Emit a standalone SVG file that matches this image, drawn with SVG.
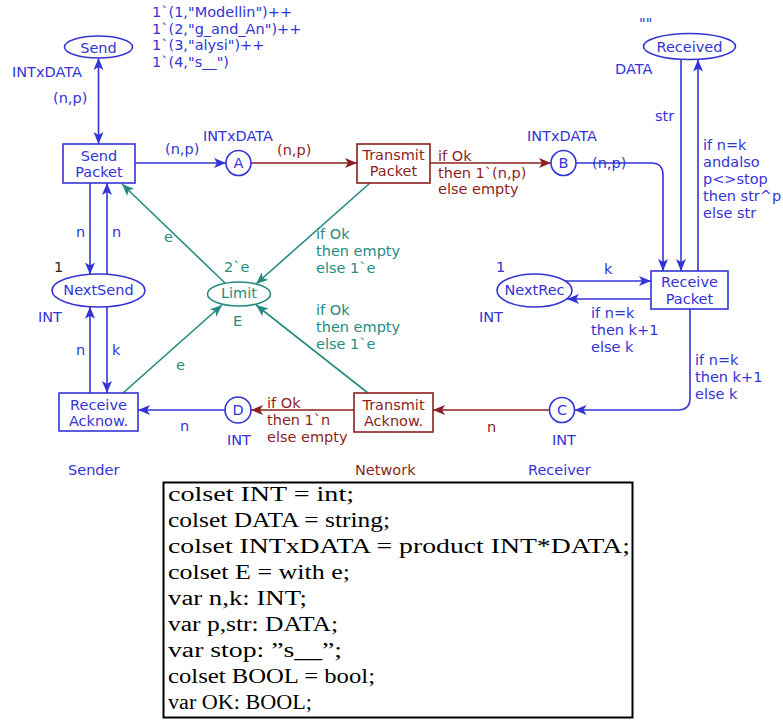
<svg xmlns="http://www.w3.org/2000/svg" width="783" height="720" viewBox="0 0 783 720">
<defs>
<style>
text{font-family:"DejaVu Sans","Verdana",sans-serif;font-size:14.5px}
.b{fill:#3434d6}.r{fill:#8b1f1f}.t{fill:#268c82}.k{fill:#222}
.mid{text-anchor:middle}
.nb{fill:#fff;stroke:#3434d6;stroke-width:1.6}
.nr{fill:#fff;stroke:#8b1f1f;stroke-width:1.6}
.nt{fill:#fff;stroke:#268c82;stroke-width:1.6}
.cb{fill:none;stroke:#3434d6;stroke-width:1.6;marker-end:url(#mb)}
.cr{fill:none;stroke:#8b1f1f;stroke-width:1.6;marker-end:url(#mr)}
.ct{fill:none;stroke:#268c82;stroke-width:1.6;marker-end:url(#mt)}
.decl{font-family:"Liberation Serif","Times New Roman",serif;font-size:20px;fill:#000}
</style>
<marker id="mb" viewBox="0 0 12 10" refX="12" refY="5" markerWidth="12" markerHeight="10" markerUnits="userSpaceOnUse" orient="auto-start-reverse"><path d="M0,0 L12,5 L0,10 L3,5 z" fill="#3434d6"/></marker>
<marker id="mr" viewBox="0 0 12 10" refX="12" refY="5" markerWidth="12" markerHeight="10" markerUnits="userSpaceOnUse" orient="auto-start-reverse"><path d="M0,0 L12,5 L0,10 L3,5 z" fill="#8b1f1f"/></marker>
<marker id="mt" viewBox="0 0 12 10" refX="12" refY="5" markerWidth="12" markerHeight="10" markerUnits="userSpaceOnUse" orient="auto-start-reverse"><path d="M0,0 L12,5 L0,10 L3,5 z" fill="#268c82"/></marker>
</defs>
<rect width="783" height="720" fill="#fff"/>

<g id="connectors">
<path class="cb" d="M98.5,58 V144" style="marker-start:url(#mb)"/>
<path class="cb" d="M135,163 H226"/>
<path class="cr" d="M251,163 H357"/>
<path class="cr" d="M430,163 H551"/>
<path class="cb" d="M576,163 H651 Q663,163 663,175 V271"/>
<path class="cb" d="M681,60 V271"/>
<path class="cb" d="M698,271 V59.5"/>
<path class="cb" d="M565,281 H651"/>
<path class="cb" d="M651,299 H567"/>
<path class="cb" d="M690,309 V398 Q690,410 678,410 H574.5"/>
<path class="cr" d="M549.5,410 H433"/>
<path class="cr" d="M354,410 H251"/>
<path class="cb" d="M225,410 H138"/>
<path class="cb" d="M90,183 V274.5"/>
<path class="cb" d="M107,274.5 V183"/>
<path class="cb" d="M90,393 V306.7"/>
<path class="cb" d="M107,306.7 V393"/>
<path class="ct" d="M225,283 L122,184"/>
<path class="ct" d="M370,183 L256,284"/>
<path class="ct" d="M123,393 L222,305"/>
<path class="ct" d="M368,393 L256,305"/>
</g>

<g id="labels">
<text class="b" x="12" y="77">INTxDATA</text>
<text class="b" x="53" y="103">(n,p)</text>
<text class="b" x="152" y="17">1`(1,"Modellin")++</text>
<text class="b" x="152" y="33.5">1`(2,"g_and_An")++</text>
<text class="b" x="152" y="50">1`(3,"alysi")++</text>
<text class="b" x="152" y="66.5">1`(4,"s__")</text>
<text class="b" x="165" y="154">(n,p)</text>
<text class="b" x="203" y="141">INTxDATA</text>
<text class="r" x="277" y="155">(n,p)</text>
<text class="r" x="438" y="161">if Ok</text>
<text class="r" x="438" y="177.5">then 1`(n,p)</text>
<text class="r" x="438" y="194">else empty</text>
<text class="b" x="527" y="141">INTxDATA</text>
<text class="b" x="592" y="168">(n,p)</text>
<text class="b" x="639" y="28">""</text>
<text class="b" x="615" y="74">DATA</text>
<text class="b" x="655" y="121">str</text>
<text class="b" x="703" y="150">if n=k</text>
<text class="b" x="703" y="167">andalso</text>
<text class="b" x="703" y="184">p&lt;&gt;stop</text>
<text class="b" x="703" y="201">then str^p</text>
<text class="b" x="703" y="218">else str</text>
<text class="b" x="496" y="272">1</text>
<text class="b" x="604" y="274">k</text>
<text class="b" x="479" y="322">INT</text>
<text class="b" x="591" y="318">if n=k</text>
<text class="b" x="591" y="335">then k+1</text>
<text class="b" x="591" y="352">else k</text>
<text class="b" x="695" y="365">if n=k</text>
<text class="b" x="695" y="382">then k+1</text>
<text class="b" x="695" y="399">else k</text>
<text class="r" x="487" y="432">n</text>
<text class="b" x="552" y="445">INT</text>
<text class="b" x="528" y="475">Receiver</text>
<text class="r" x="355" y="475">Network</text>
<text class="b" x="68" y="475">Sender</text>
<text class="r" x="267" y="408">if Ok</text>
<text class="r" x="267" y="425">then 1`n</text>
<text class="r" x="267" y="442">else empty</text>
<text class="b" x="180" y="431">n</text>
<text class="b" x="227" y="445">INT</text>
<text class="t" x="176" y="370">e</text>
<text class="t" x="233" y="326">E</text>
<text class="t" x="224" y="272">2`e</text>
<text class="t" x="164" y="242">e</text>
<text class="t" x="316" y="239">if Ok</text>
<text class="t" x="316" y="256">then empty</text>
<text class="t" x="316" y="273">else 1`e</text>
<text class="t" x="316" y="315">if Ok</text>
<text class="t" x="316" y="332">then empty</text>
<text class="t" x="316" y="349">else 1`e</text>
<text class="b" x="76" y="237">n</text>
<text class="b" x="112" y="237">n</text>
<text class="k" x="54" y="272">1</text>
<text class="b" x="38" y="322">INT</text>
<text class="b" x="76" y="355">n</text>
<text class="b" x="112" y="355">k</text>
</g>

<g id="Send"><ellipse class="nb" cx="98.5" cy="47" rx="34" ry="11"/><text class="b mid" x="98.5" y="53">Send</text></g>
<g id="SendPacket"><rect class="nb" x="63" y="144" width="72" height="39"/><text class="b mid" x="99" y="161">Send</text><text class="b mid" x="99" y="177">Packet</text></g>
<g id="A"><circle class="nb" cx="238.5" cy="163" r="12.5"/><text class="b mid" x="238.5" y="168">A</text></g>
<g id="TransmitPacket"><rect class="nr" x="357" y="144" width="73" height="39"/><text class="r mid" x="393.5" y="160">Transmit</text><text class="r mid" x="393.5" y="176">Packet</text></g>
<g id="B"><circle class="nb" cx="563.5" cy="163" r="12.5"/><text class="b mid" x="563.5" y="168">B</text></g>
<g id="Received"><ellipse class="nb" cx="689.5" cy="46.5" rx="46" ry="13"/><text class="b mid" x="689.5" y="52">Received</text></g>
<g id="ReceivePacket"><rect class="nb" x="651" y="271" width="77" height="38"/><text class="b mid" x="689.5" y="287">Receive</text><text class="b mid" x="689.5" y="304">Packet</text></g>
<g id="NextRec"><ellipse class="nb" cx="534.5" cy="290.5" rx="37.5" ry="16.5"/><text class="b mid" x="534.5" y="295">NextRec</text></g>
<g id="NextSend"><ellipse class="nb" cx="98.5" cy="290.5" rx="46.5" ry="16.5"/><text class="b mid" x="98.5" y="295">NextSend</text></g>
<g id="Limit"><ellipse class="nt" cx="239" cy="294" rx="31.5" ry="12"/><text class="t mid" x="239" y="298">Limit</text></g>
<g id="ReceiveAcknow"><rect class="nb" x="59" y="393" width="79" height="38"/><text class="b mid" x="98.5" y="410">Receive</text><text class="b mid" x="98.5" y="426">Acknow.</text></g>
<g id="D"><circle class="nb" cx="238" cy="410" r="13"/><text class="b mid" x="238" y="415">D</text></g>
<g id="TransmitAcknow"><rect class="nr" x="354" y="393" width="79" height="39"/><text class="r mid" x="393.5" y="410">Transmit</text><text class="r mid" x="393.5" y="426">Acknow.</text></g>
<g id="C"><circle class="nb" cx="562" cy="410" r="12.5"/><text class="b mid" x="562" y="415">C</text></g>

<g id="declarations">
<rect x="163.5" y="482.5" width="469" height="235" fill="#fff" stroke="#000" stroke-width="2"/>
<text class="decl" x="168" y="501" textLength="186" lengthAdjust="spacingAndGlyphs">colset INT = int;</text>
<text class="decl" x="168" y="527" textLength="222" lengthAdjust="spacingAndGlyphs">colset DATA = string;</text>
<text class="decl" x="168" y="553" textLength="462" lengthAdjust="spacingAndGlyphs">colset INTxDATA = product INT*DATA;</text>
<text class="decl" x="168" y="579" textLength="182" lengthAdjust="spacingAndGlyphs">colset E = with e;</text>
<text class="decl" x="168" y="605" textLength="139" lengthAdjust="spacingAndGlyphs">var n,k: INT;</text>
<text class="decl" x="168" y="631" textLength="170" lengthAdjust="spacingAndGlyphs">var p,str: DATA;</text>
<text class="decl" x="168" y="657" textLength="174" lengthAdjust="spacingAndGlyphs">var stop: ”s__”;</text>
<text class="decl" x="168" y="683" textLength="207" lengthAdjust="spacingAndGlyphs">colset BOOL = bool;</text>
<text class="decl" x="168" y="709" textLength="144" lengthAdjust="spacingAndGlyphs">var OK: BOOL;</text>
</g>
</svg>
